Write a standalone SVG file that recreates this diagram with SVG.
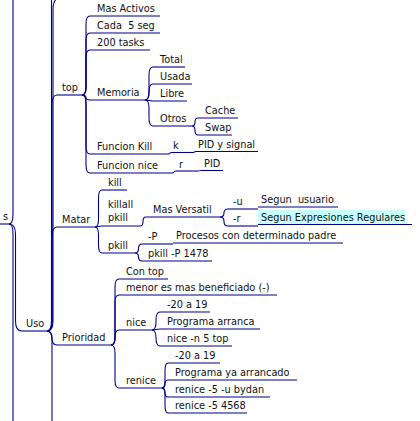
<svg xmlns="http://www.w3.org/2000/svg" width="420" height="421" viewBox="0 0 420 421">
<style>
text{font-family:"DejaVu Sans","Liberation Sans",sans-serif;font-size:9.75px;fill:#111}
.u{stroke:#00008a;stroke-width:1.1;fill:none}
.e{stroke:#00008a;stroke-width:1.1;fill:none}
.hl{fill:#c8ffff}
</style>
<rect width="420" height="421" fill="#fff"/>
<g id="connectors">
<path class="e" d="M9,224 Q13,224 13,214 L13,-10"/>
<path class="e" d="M9,224 Q15.5,224 15.5,234 L15.5,321 Q15.5,331 22,331"/>
<path class="e" d="M9,224 Q13,224 13,234 L13,430"/>
<path class="e" d="M47,331 Q51.5,331 51.5,321 L51.5,-10"/>
<path class="e" d="M47,331 Q53,331 53,321 L53,10 Q53,-2 60,-2"/>
<path class="e" d="M47,331 Q52,331 52,321 L52,105 Q52,95 57,95"/>
<path class="e" d="M47,331 Q52,331 52,321 L52,237 Q52,227 57,227"/>
<path class="e" d="M47,331 Q52,331 52,338 Q52,345 57,345"/>
<path class="e" d="M47,331 Q52,331 52,341 L52,430"/>
<path class="e" d="M82,95 Q86,95 86,87 L86,24 Q86,16 90,16"/>
<path class="e" d="M82,95 Q86,95 86,87 L86,41 Q86,33 90,33"/>
<path class="e" d="M82,95 Q86,95 86,87 L86,58 Q86,50 90,50"/>
<path class="e" d="M82,95 Q86,95 86,97.5 Q86,100 90,100"/>
<path class="e" d="M82,95 Q86,95 86,103 L86,146 Q86,154 90,154"/>
<path class="e" d="M82,95 Q86,95 86,103 L86,165 Q86,173 90,173"/>
<path class="e" d="M145,100 Q149,100 149,92 L149,75 Q149,67 153,67"/>
<path class="e" d="M145,100 Q149,100 149,92 Q149,84 153,84"/>
<path class="e" d="M145,100 L153,101"/>
<path class="e" d="M145,100 Q149,100 149,108 L149,118 Q149,126 153,126"/>
<path class="e" d="M192,126 Q195,126 195,122 Q195,118 198,118"/>
<path class="e" d="M192,126 Q195,126 195,130.5 Q195,135 198,135"/>
<path class="e" d="M168,154 C172,154 168,152.5 172,152.5"/>
<path class="e" d="M193,152.5 C196,152.5 193,151.5 196,151.5"/>
<path class="e" d="M172,173 C176,173 172,171 176,171"/>
<path class="e" d="M198,171 C201,171 198,170.5 201,170.5"/>
<path class="e" d="M95,227 Q98.5,227 98.5,219 L98.5,198 Q98.5,190 102,190"/>
<path class="e" d="M95,227 L102,226"/>
<path class="e" d="M95,227 Q98.5,227 98.5,235 L98.5,245 Q98.5,253 102,253"/>
<path class="e" d="M140,226 Q143,226 143,221.5 Q143,217 146,217"/>
<path class="e" d="M220,217 Q224,217 224,213 Q224,209 228,209"/>
<path class="e" d="M220,217 Q224,217 224,221.5 Q224,226 228,226"/>
<path class="e" d="M135,253 Q138.5,253 138.5,248.5 Q138.5,244 142,244"/>
<path class="e" d="M135,253 Q138.5,253 138.5,257 Q138.5,261 142,261"/>
<path class="e" d="M111,345 Q115,345 115,337 L115,287 Q115,279 119,279"/>
<path class="e" d="M111,345 Q115,345 115,337 L115,303 Q115,295 119,295"/>
<path class="e" d="M111,345 Q115,345 115,337.5 Q115,330 119,330"/>
<path class="e" d="M111,345 Q115,345 115,353 L115,380 Q115,388 119,388"/>
<path class="e" d="M152,330 Q156,330 156,322 L156,320 Q156,312 160,312"/>
<path class="e" d="M152,330 L160,329"/>
<path class="e" d="M152,330 Q156,330 156,338 Q156,346 160,346"/>
<path class="e" d="M162,388 Q165,388 165,380 L165,371 Q165,363 168,363"/>
<path class="e" d="M162,388 Q165,388 165,384 Q165,380 168,380"/>
<path class="e" d="M162,388 Q165,388 165,392.5 Q165,397 168,397"/>
<path class="e" d="M162,388 Q165,388 165,396 L165,405 Q165,413 168,413"/>
</g>
<g id="n-root"><path class="u" d="M0,224H9"/><text x="8" y="220" text-anchor="end">s</text></g>
<g id="n-uso"><path class="u" d="M22,331H47"/><text x="26" y="327">Uso</text></g>
<g id="n-top"><path class="u" d="M57,95H82"/><text x="62" y="91">top</text></g>
<g id="n-masactivos"><path class="u" d="M90,16H160"/><text x="97" y="12">Mas Activos</text></g>
<g id="n-cada"><path class="u" d="M90,33H160"/><text x="97" y="29" xml:space="preserve">Cada  5 seg</text></g>
<g id="n-200"><path class="u" d="M90,50H150"/><text x="97" y="46">200 tasks</text></g>
<g id="n-memoria"><path class="u" d="M90,100H145"/><text x="97" y="96">Memoria</text></g>
<g id="n-total"><path class="u" d="M153,67H185"/><text x="160" y="63">Total</text></g>
<g id="n-usada"><path class="u" d="M153,84H192"/><text x="160" y="80">Usada</text></g>
<g id="n-libre"><path class="u" d="M153,101H187"/><text x="160" y="97">Libre</text></g>
<g id="n-otros"><path class="u" d="M153,126H192"/><text x="160" y="122">Otros</text></g>
<g id="n-cache"><path class="u" d="M198,118H238"/><text x="205" y="114">Cache</text></g>
<g id="n-swap"><path class="u" d="M198,135H232"/><text x="205" y="131">Swap</text></g>
<g id="n-fkill"><path class="u" d="M90,154H168"/><text x="97" y="150">Funcion Kill</text></g>
<g id="n-k"><path class="u" d="M172,152.5H193"/><text x="173" y="149">k</text></g>
<g id="n-pidsignal"><path class="u" d="M196,151.5H258"/><text x="198" y="148">PID y signal</text></g>
<g id="n-fnice"><path class="u" d="M90,173H172"/><text x="97" y="169">Funcion nice</text></g>
<g id="n-r"><path class="u" d="M176,171H198"/><text x="179" y="168">r</text></g>
<g id="n-pid"><path class="u" d="M201,170.5H223"/><text x="204" y="167">PID</text></g>
<g id="n-matar"><path class="u" d="M57,227H95"/><text x="62" y="223">Matar</text></g>
<g id="n-kill"><path class="u" d="M102,190H127"/><text x="108" y="186">kill</text></g>
<g id="n-killall"><path class="u" d="M102,226H140"/><text x="108" y="208">killall</text><text x="108" y="221">pkill</text></g>
<g id="n-masversatil"><path class="u" d="M146,217H220"/><text x="153" y="213">Mas Versatil</text></g>
<g id="n-u"><path class="u" d="M228,209H258"/><text x="233" y="205">-u</text></g>
<g id="n-r2"><path class="u" d="M228,226H258"/><text x="233" y="222">-r</text></g>
<g id="n-segunusuario"><path class="u" d="M258,207H338"/><text x="261" y="203" xml:space="preserve">Segun  usuario</text></g>
<g id="n-segunexp"><rect class="hl" x="258" y="210" width="147" height="14"/><path class="u" d="M258,224.5H412"/><text x="261" y="221">Segun Expresiones Regulares</text></g>
<g id="n-pkill"><path class="u" d="M102,253H135"/><text x="108" y="249">pkill</text></g>
<g id="n-P"><path class="u" d="M142,244H173"/><text x="148" y="240">-P</text></g>
<g id="n-procesos"><path class="u" d="M173,243H343"/><text x="176" y="239">Procesos con determinado padre</text></g>
<g id="n-pkillP"><path class="u" d="M142,261H212"/><text x="148" y="257">pkill -P 1478</text></g>
<g id="n-prioridad"><path class="u" d="M57,345H111"/><text x="62" y="341">Prioridad</text></g>
<g id="n-contop"><path class="u" d="M119,279H168"/><text x="126" y="275">Con top</text></g>
<g id="n-menor"><path class="u" d="M119,295H277"/><text x="126" y="291">menor es mas beneficiado (-)</text></g>
<g id="n-nice"><path class="u" d="M119,330H152"/><text x="126" y="326">nice</text></g>
<g id="n-nice-range"><path class="u" d="M160,312H210"/><text x="167" y="308">-20 a 19</text></g>
<g id="n-progarranca"><path class="u" d="M160,329H260"/><text x="167" y="325">Programa arranca</text></g>
<g id="n-nicen5"><path class="u" d="M160,346H232"/><text x="167" y="342">nice -n 5 top</text></g>
<g id="n-renice"><path class="u" d="M119,388H162"/><text x="126" y="384">renice</text></g>
<g id="n-renice-range"><path class="u" d="M168,363H220"/><text x="175" y="359">-20 a 19</text></g>
<g id="n-progya"><path class="u" d="M168,380H297"/><text x="175" y="376">Programa ya arrancado</text></g>
<g id="n-reniceu"><path class="u" d="M168,397H270"/><text x="175" y="393">renice -5 -u bydan</text></g>
<g id="n-renice4568"><path class="u" d="M168,413H247"/><text x="175" y="409">renice -5 4568</text></g>
</svg>
